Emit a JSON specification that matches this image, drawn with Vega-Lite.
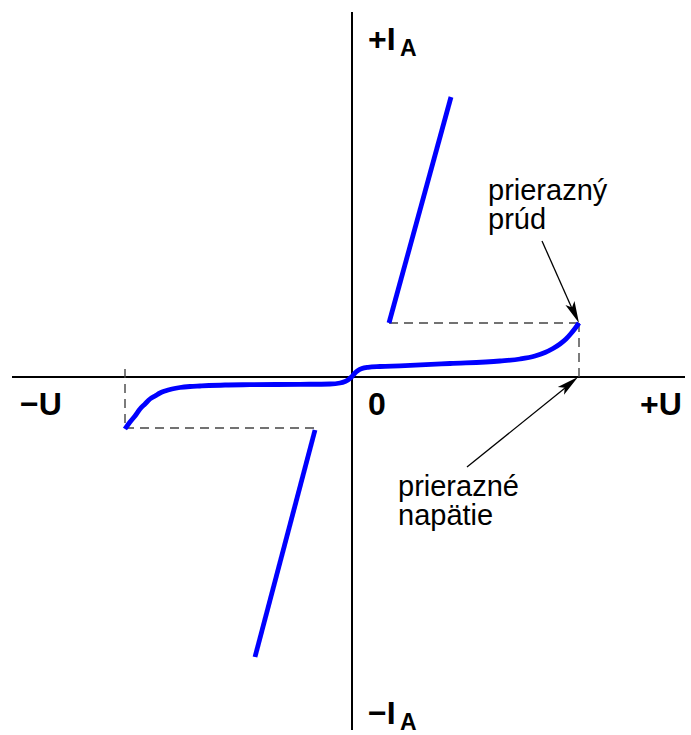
{
  "$schema": "https://vega.github.io/schema/vega-lite/v6.json",
  "width": 691,
  "height": 735,
  "autosize": {"type": "fit", "contains": "padding"},
  "padding": 0,
  "background": "white",
  "config": {"view": {"stroke": null}},
  "datasets": {
    "axes": [
      {"s": "h", "k": 0, "u": -340, "i": 0},
      {"s": "h", "k": 1, "u": 333, "i": 0},
      {"s": "v", "k": 0, "u": 0, "i": 365},
      {"s": "v", "k": 1, "u": 0, "i": -353}
    ],
    "dashes": [
      {"s": "a", "k": 0, "u": 37, "i": 54},
      {"s": "a", "k": 1, "u": 227, "i": 54},
      {"s": "b", "k": 0, "u": 227, "i": 54},
      {"s": "b", "k": 1, "u": 227, "i": 0},
      {"s": "c", "k": 0, "u": -227, "i": -51},
      {"s": "c", "k": 1, "u": -37, "i": -51},
      {"s": "d", "k": 0, "u": -227, "i": 8},
      {"s": "d", "k": 1, "u": -227, "i": -51}
    ],
    "lines": [
      {"s": "up", "k": 0, "u": 37, "i": 54},
      {"s": "up", "k": 1, "u": 99, "i": 280},
      {"s": "down", "k": 0, "u": -37, "i": -53},
      {"s": "down", "k": 1, "u": -97, "i": -280}
    ],
    "curve": [
      {"u": -227, "i": -52},
      {"u": -222, "i": -45},
      {"u": -217, "i": -39},
      {"u": -212, "i": -32},
      {"u": -207, "i": -27},
      {"u": -202, "i": -22},
      {"u": -197, "i": -19},
      {"u": -192, "i": -16},
      {"u": -187, "i": -14},
      {"u": -180, "i": -12},
      {"u": -172, "i": -10.5},
      {"u": -162, "i": -9.5},
      {"u": -152, "i": -9},
      {"u": -127, "i": -8},
      {"u": -102, "i": -7.7},
      {"u": -52, "i": -7.3},
      {"u": -22, "i": -7},
      {"u": -12, "i": -6},
      {"u": -7, "i": -4.5},
      {"u": -4, "i": -3},
      {"u": 0, "i": 0.5},
      {"u": 3, "i": 4},
      {"u": 6, "i": 6.5},
      {"u": 10, "i": 8.5},
      {"u": 16, "i": 9.7},
      {"u": 28, "i": 10.5},
      {"u": 48, "i": 11.2},
      {"u": 98, "i": 13.5},
      {"u": 148, "i": 16},
      {"u": 168, "i": 18},
      {"u": 183, "i": 21},
      {"u": 193, "i": 24.5},
      {"u": 201, "i": 28.5},
      {"u": 208, "i": 33},
      {"u": 214, "i": 38},
      {"u": 219, "i": 43.5},
      {"u": 223, "i": 48.5},
      {"u": 227, "i": 54}
    ],
    "arrows": [
      {"s": "current", "k": 0, "u": 190, "i": 136},
      {"s": "current", "k": 1, "u": 222, "i": 64},
      {"s": "voltage", "k": 0, "u": 115, "i": -90},
      {"s": "voltage", "k": 1, "u": 218, "i": -7}
    ],
    "heads": [
      {"s": "current", "u": 227, "i": 54},
      {"s": "voltage", "u": 226, "i": 0}
    ],
    "big": [
      {"t": "+I", "u": 16, "i": 327},
      {"t": "−I", "u": 16, "i": -347},
      {"t": "−U", "u": -332, "i": -38},
      {"t": "0", "u": 16, "i": -38},
      {"t": "+U", "u": 288, "i": -38}
    ],
    "sub": [
      {"t": "A", "u": 48, "i": 321},
      {"t": "A", "u": 48, "i": -353}
    ],
    "notes": [
      {"t": "prierazný\nprúd", "u": 136, "i": 177},
      {"t": "prierazné\nnapätie", "u": 46, "i": -119}
    ]
  },
  "layer": [
    {
      "data": {"name": "axes"},
      "mark": {"type": "line", "color": "black", "strokeWidth": 2},
      "encoding": {
        "x": {"field": "u", "type": "quantitative", "scale": {"domain": [-352, 339], "nice": false, "zero": false}, "axis": null},
        "y": {"field": "i", "type": "quantitative", "scale": {"domain": [-358, 377], "nice": false, "zero": false}, "axis": null},
        "detail": {"field": "s"},
        "order": {"field": "k"}
      }
    },
    {
      "data": {"name": "dashes"},
      "mark": {"type": "line", "color": "#444444", "strokeWidth": 1.4, "strokeDash": [9, 6]},
      "encoding": {
        "x": {"field": "u", "type": "quantitative", "scale": {"domain": [-352, 339], "nice": false, "zero": false}, "axis": null},
        "y": {"field": "i", "type": "quantitative", "scale": {"domain": [-358, 377], "nice": false, "zero": false}, "axis": null},
        "detail": {"field": "s"},
        "order": {"field": "k"}
      }
    },
    {
      "data": {"name": "lines"},
      "mark": {"type": "line", "color": "#0000ff", "strokeWidth": 4.8},
      "encoding": {
        "x": {"field": "u", "type": "quantitative", "scale": {"domain": [-352, 339], "nice": false, "zero": false}, "axis": null},
        "y": {"field": "i", "type": "quantitative", "scale": {"domain": [-358, 377], "nice": false, "zero": false}, "axis": null},
        "detail": {"field": "s"},
        "order": {"field": "k"}
      }
    },
    {
      "data": {"name": "curve"},
      "mark": {"type": "line", "color": "#0000ff", "strokeWidth": 4.8, "interpolate": "monotone"},
      "encoding": {
        "x": {"field": "u", "type": "quantitative", "scale": {"domain": [-352, 339], "nice": false, "zero": false}, "axis": null},
        "y": {"field": "i", "type": "quantitative", "scale": {"domain": [-358, 377], "nice": false, "zero": false}, "axis": null}
      }
    },
    {
      "data": {"name": "arrows"},
      "mark": {"type": "line", "color": "black", "strokeWidth": 1.3},
      "encoding": {
        "x": {"field": "u", "type": "quantitative", "scale": {"domain": [-352, 339], "nice": false, "zero": false}, "axis": null},
        "y": {"field": "i", "type": "quantitative", "scale": {"domain": [-358, 377], "nice": false, "zero": false}, "axis": null},
        "detail": {"field": "s"},
        "order": {"field": "k"}
      }
    },
    {
      "data": {"name": "heads"},
      "transform": [{"filter": "datum.s === 'current'"}],
      "mark": {"type": "point", "filled": true, "color": "black", "opacity": 1, "size": 484, "angle": 155.7, "shape": "M0,0 L0.45,2 L0,1.55 L-0.45,2 Z"},
      "encoding": {
        "x": {"field": "u", "type": "quantitative", "scale": {"domain": [-352, 339], "nice": false, "zero": false}, "axis": null},
        "y": {"field": "i", "type": "quantitative", "scale": {"domain": [-358, 377], "nice": false, "zero": false}, "axis": null}
      }
    },
    {
      "data": {"name": "heads"},
      "transform": [{"filter": "datum.s === 'voltage'"}],
      "mark": {"type": "point", "filled": true, "color": "black", "opacity": 1, "size": 484, "angle": 51, "shape": "M0,0 L0.45,2 L0,1.55 L-0.45,2 Z"},
      "encoding": {
        "x": {"field": "u", "type": "quantitative", "scale": {"domain": [-352, 339], "nice": false, "zero": false}, "axis": null},
        "y": {"field": "i", "type": "quantitative", "scale": {"domain": [-358, 377], "nice": false, "zero": false}, "axis": null}
      }
    },
    {
      "data": {"name": "big"},
      "mark": {"type": "text", "font": "Liberation Sans", "fontWeight": "bold", "fontSize": 32, "align": "left", "baseline": "alphabetic", "color": "black"},
      "encoding": {
        "x": {"field": "u", "type": "quantitative", "scale": {"domain": [-352, 339], "nice": false, "zero": false}, "axis": null},
        "y": {"field": "i", "type": "quantitative", "scale": {"domain": [-358, 377], "nice": false, "zero": false}, "axis": null},
        "text": {"field": "t"}
      }
    },
    {
      "data": {"name": "sub"},
      "mark": {"type": "text", "font": "Liberation Sans", "fontWeight": "bold", "fontSize": 23, "align": "left", "baseline": "alphabetic", "color": "black"},
      "encoding": {
        "x": {"field": "u", "type": "quantitative", "scale": {"domain": [-352, 339], "nice": false, "zero": false}, "axis": null},
        "y": {"field": "i", "type": "quantitative", "scale": {"domain": [-358, 377], "nice": false, "zero": false}, "axis": null},
        "text": {"field": "t"}
      }
    },
    {
      "data": {"name": "notes"},
      "mark": {"type": "text", "font": "Liberation Sans", "fontSize": 29, "align": "left", "baseline": "alphabetic", "lineBreak": "\n", "lineHeight": 29, "color": "black"},
      "encoding": {
        "x": {"field": "u", "type": "quantitative", "scale": {"domain": [-352, 339], "nice": false, "zero": false}, "axis": null},
        "y": {"field": "i", "type": "quantitative", "scale": {"domain": [-358, 377], "nice": false, "zero": false}, "axis": null},
        "text": {"field": "t"}
      }
    }
  ]
}
